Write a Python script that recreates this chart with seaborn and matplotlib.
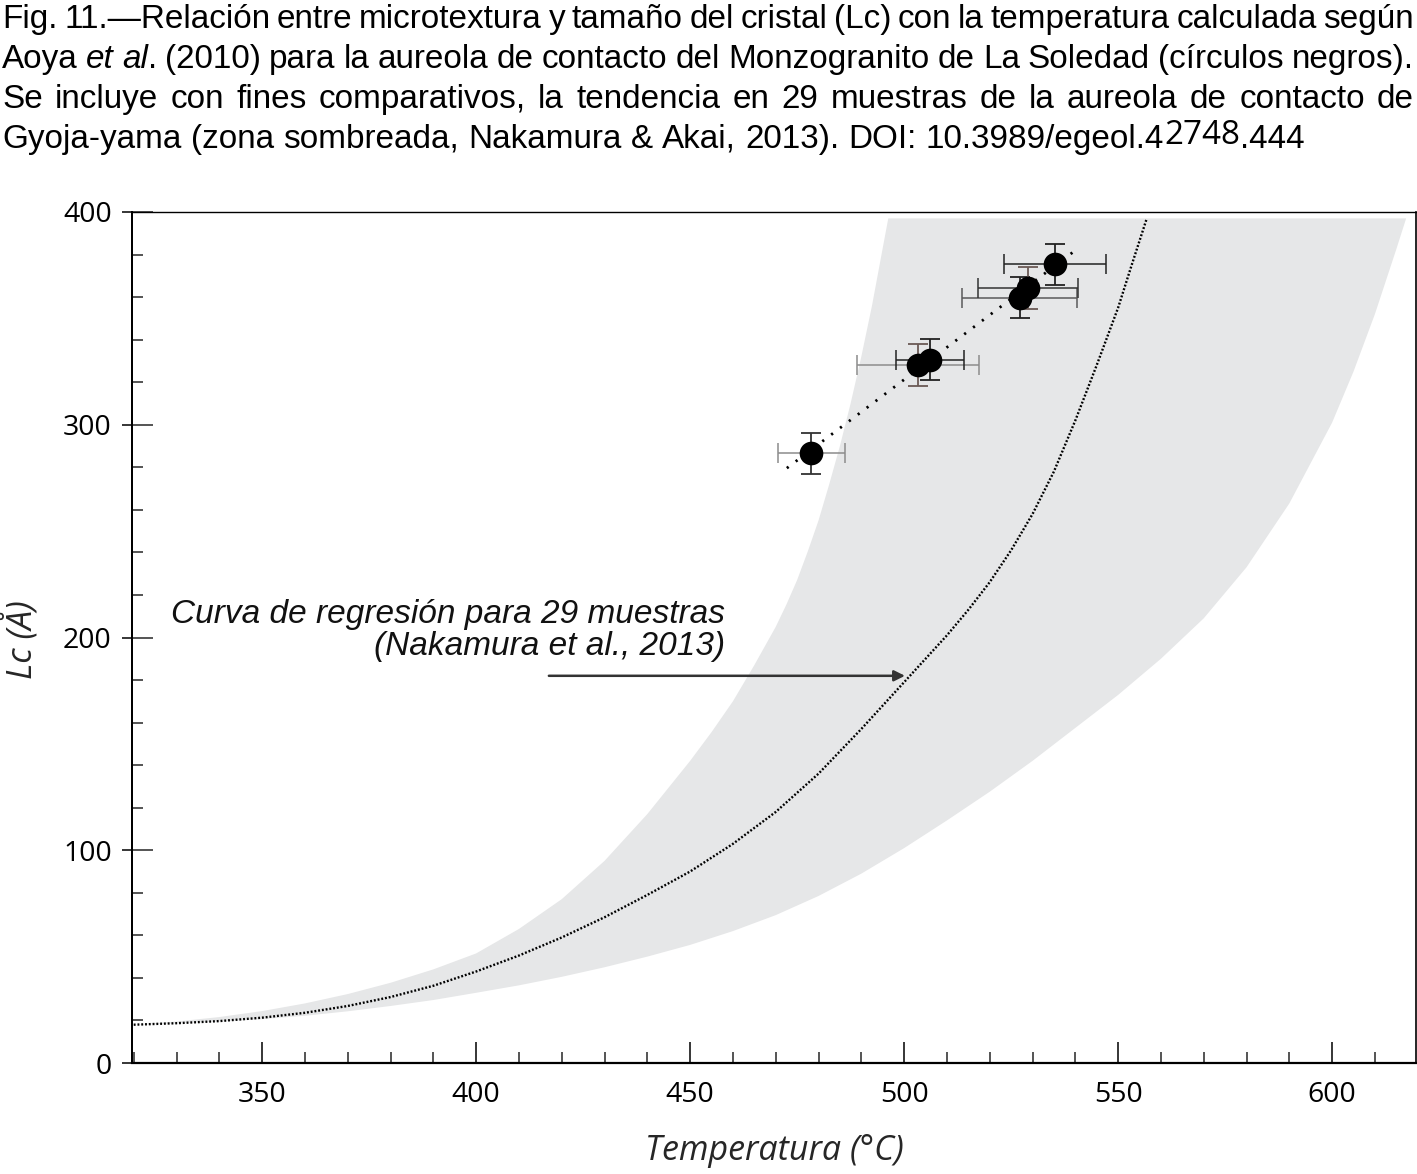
import matplotlib
matplotlib.use("Agg")
import matplotlib.pyplot as plt
import seaborn as sns
from matplotlib.ticker import MultipleLocator
from matplotlib.transforms import offset_copy

# regression curve (Nakamura et al., 2013)
curve_temp = [320, 330, 340, 350, 360, 370, 380, 390, 400, 410, 420, 430, 440,
              450, 460, 470, 480, 490, 500, 505, 510, 515, 520, 525, 530, 535,
              540, 545, 550, 553, 556.7]
curve_lc = [18, 18.7, 19.7, 21.3, 23.6, 26.8, 31, 36.3, 43, 50.5, 59, 68.5, 79,
            90, 103, 118, 136, 157, 179, 190, 201, 213, 226, 241, 258, 278,
            302, 328, 355, 374, 397]

# shaded zone (Gyoja-yama, 29 samples): upper / lower edges
band_upper_temp = [320, 330, 340, 350, 360, 370, 380, 390, 400, 410, 420, 430,
                   440, 450, 455, 460, 465, 470, 472.5, 475, 477.5, 480, 482.5,
                   485, 487.5, 490, 492.5, 495, 496.3]
band_upper_lc = [18, 19.5, 21.6, 24.4, 28, 32.4, 37.7, 44, 51.5, 63, 77, 95,
                 117, 142, 155.5, 170, 187, 205, 215.5, 227, 240.5, 255, 272,
                 290, 310, 332, 356, 383, 397]
band_lower_temp = [320, 330, 340, 350, 360, 370, 380, 390, 400, 410, 420, 430,
                   440, 450, 460, 470, 480, 490, 500, 510, 520, 530, 540, 550,
                   560, 570, 580, 590, 600, 605, 610, 615, 617.3]
band_lower_lc = [18, 18.6, 19.5, 20.6, 22.2, 24.3, 26.8, 29.6, 33, 36.5, 40.5,
                 45, 50, 55.5, 62, 69.5, 78.5, 89, 101, 114, 127.5, 142, 157.5,
                 173, 190, 209, 233, 263, 301, 325, 352, 382.5, 397]

# La Soledad samples (black circles)
sample_temp = [478.3, 503.3, 506.1, 527.0, 529.0, 535.2]
sample_lc = [286.5, 328.2, 330.5, 359.7, 364.2, 375.5]
sample_temp_err = [7.8, 14.3, 7.9, 13.5, 11.7, 11.9]
sample_lc_err = [9.7, 9.8, 9.7, 9.7, 9.8, 9.6]
xerr_colors = ['#8c8c8c', '#8c8c8c', '#222222', '#5a5a5a', '#333333', '#222222']
yerr_colors = ['#333333', '#6b5a55', '#222222', '#222222', '#6b5a55', '#222222']

# linear trend of the samples
trend_temp = [472.6, 540.1]
trend_lc = [279.6, 382.1]

arrow_from = (417, 182)
arrow_to = (500.2, 182)
note_pos = (458.1, 191.8)

caption = [
    ("Fig. 11.\u2014Relación entre microtextura y tamaño del cristal (Lc) con la "
     "temperatura calculada según", True),
    ("Aoya |et |al|. (2010) para la aureola de contacto del Monzogranito de La "
     "Soledad (círculos negros).", True),
    ("Se incluye con fines comparativos, la tendencia en 29 muestras de la "
     "aureola de contacto de", True),
    ("Gyoja-yama (zona sombreada, Nakamura & Akai, 2013). DOI: 10.3989/egeol.4"
     "|2748|.444", False),
]

sns.set_theme(style="ticks")
plt.rcParams['font.family'] = ['Liberation Sans', 'DejaVu Sans']

W, H = 1417, 1174
fig = plt.figure(figsize=(W / 100, H / 100), dpi=100)
ax = fig.add_axes([132 / W, (H - 1063) / H, 1284 / W, 851 / H])
ax.set_facecolor('white')

# shaded zone
band_x = band_upper_temp + band_lower_temp[::-1]
band_y = band_upper_lc + band_lower_lc[::-1]
ax.fill(band_x, band_y, color='#e6e7e8', lw=0, zorder=1)

# regression curve
sns.lineplot(x=curve_temp, y=curve_lc, ax=ax, color='black', lw=1.7,
             sort=False, zorder=2)
ax.lines[-1].set_linestyle((0, (0.8, 0.8)))

# trend of samples
sns.lineplot(x=trend_temp, y=trend_lc, ax=ax, color='black', lw=2.0,
             sort=False, zorder=3)
ax.lines[-1].set_linestyle((0, (0.8, 3.2)))

for t, lc, te, le, cx, cy in zip(sample_temp, sample_lc, sample_temp_err,
                                 sample_lc_err, xerr_colors, yerr_colors):
    ax.errorbar(t, lc, xerr=te, fmt='none', ecolor=cx, elinewidth=1.1,
                capsize=7.5, capthick=1.1, zorder=4)
    ax.errorbar(t, lc, yerr=le, fmt='none', ecolor=cy, elinewidth=1.3,
                capsize=7.5, capthick=1.3, zorder=4)

sns.scatterplot(x=sample_temp, y=sample_lc, ax=ax, s=290, color='black',
                edgecolor='black', linewidth=0, zorder=5)

# annotation
ax.annotate('', xy=arrow_to, xytext=arrow_from,
            arrowprops=dict(arrowstyle='-|>', color='#333333', lw=1.8,
                            mutation_scale=16, shrinkA=0, shrinkB=0),
            zorder=6)
ax.text(note_pos[0], note_pos[1],
        "Curva de regresión para 29 muestras\n(Nakamura et al., 2013)",
        ha='right', va='baseline', fontsize=24, style='italic',
        linespacing=1.05, color='#111111')

ax.set_xlim(319.6, 619.6)
ax.set_ylim(0, 400)

ax.xaxis.set_major_locator(MultipleLocator(50))
ax.xaxis.set_minor_locator(MultipleLocator(10))
ax.yaxis.set_major_locator(MultipleLocator(100))
ax.yaxis.set_minor_locator(MultipleLocator(20))
ax.tick_params(axis='x', which='major', direction='in', length=15, width=1.1,
               pad=13, labelsize=20.5, labelfontfamily='Open Sans', colors='black')
ax.tick_params(axis='x', which='minor', direction='in', length=8, width=1.1)
ax.tick_params(axis='y', which='major', direction='in', length=15, width=1.1,
               labelleft=False)
ax.tick_params(axis='y', which='minor', direction='in', length=8, width=1.1)

sec = ax.secondary_yaxis('left')
sec.set_yticks([0, 100, 200, 300, 400])
sec.tick_params(direction='out', length=7.5, width=1.1, pad=7, labelsize=20.5,
                labelfontfamily='Open Sans', colors='black')
sec.spines['left'].set_linewidth(1.4)
sec.spines['left'].set_color('black')

for side, lw in [('bottom', 1.6), ('left', 1.4), ('top', 1.0), ('right', 1.2)]:
    ax.spines[side].set_linewidth(lw)
    ax.spines[side].set_color('black')
    ax.spines[side].set_visible(True)

ax.set_xlabel("Temperatura (\u00b0C)", fontsize=24.5, style='italic',
              family=['Open Sans', 'DejaVu Sans'])
ax.xaxis.set_label_coords(0.5, -0.083)
ax.set_ylabel("Lc (\u00c5)", fontsize=24.5, style='italic',
              family=['Open Sans', 'DejaVu Sans'])
ax.yaxis.set_label_coords(-0.072, 0.497)

# caption, justified like the source
renderer = fig.canvas.get_renderer()


def make_words(line):
    pieces = []
    for p in line.split('|'):
        style = 'italic' if p in ('et ', 'al') else 'normal'
        fam = ['Liberation Sans', 'DejaVu Sans']
        raise_px = 0
        if p == '2748':
            fam = ['Open Sans', 'DejaVu Sans']
            raise_px = 4
        pieces.append((p, style, fam, raise_px))
    # split into words, keeping glued pieces together
    words, cur = [], []
    for text, style, fam, rp in pieces:
        for j, c in enumerate(text.split(' ')):
            if j > 0:
                if cur:
                    words.append(cur)
                cur = []
            if c:
                cur.append((c, style, fam, rp))
    if cur:
        words.append(cur)
    return words


def place_line(line, base_px, justify, size):
    y = 1 - base_px / H
    objs = []
    for w in make_words(line):
        group = []
        for text, style, fam, rp in w:
            tr = offset_copy(fig.transFigure, fig=fig, x=0, y=rp, units='dots')
            t = fig.text(0, y, text, fontsize=size, style=style, family=fam,
                         va='baseline', ha='left', transform=tr, color='black')
            group.append(t)
        objs.append(group)
    widths = [[t.get_window_extent(renderer).width for t in g] for g in objs]
    total = sum(sum(ws) for ws in widths)
    sp = fig.text(0, 0, 'a a', fontsize=size)
    sp2 = fig.text(0, 0, 'aa', fontsize=size)
    space = sp.get_window_extent(renderer).width - sp2.get_window_extent(renderer).width
    sp.remove()
    sp2.remove()
    x0, x1 = 2, 1414
    gap = (x1 - x0 - total) / (len(objs) - 1) if justify else space
    x = x0
    for g, ws in zip(objs, widths):
        for t, w in zip(g, ws):
            t.set_x(x / W)
            x += w
        x += gap
    return objs, x - gap


# size the caption so the last (ragged) line ends where it does in the source
probe, end = place_line(caption[3][0], 148, False, 20)
for g in probe:
    for t in g:
        t.remove()
cap_size = 20 * (1304 - 2) / (end - 2)

bases = [28, 68, 108, 148]
for (line, just), b in zip(caption, bases):
    place_line(line, b, just, cap_size)

fig.savefig('out.png', dpi=100, facecolor='white')
